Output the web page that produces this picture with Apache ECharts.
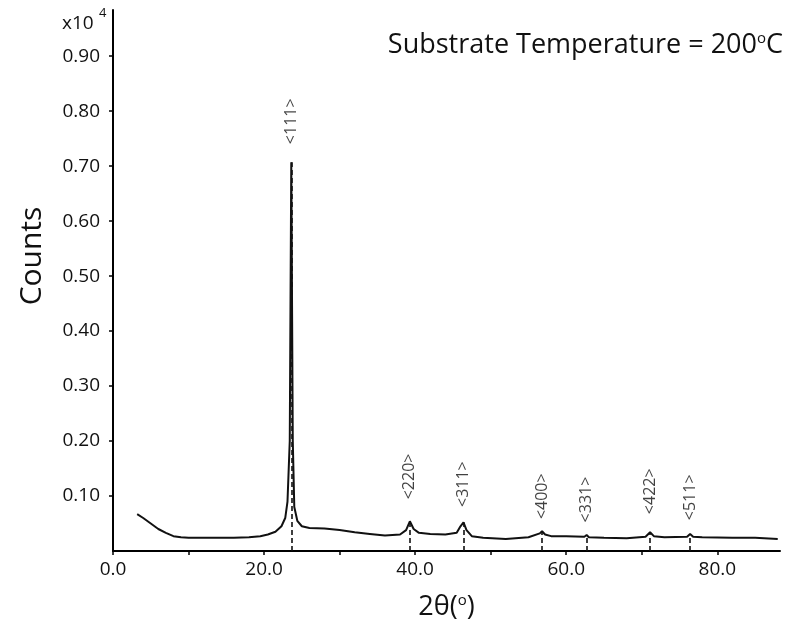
<!DOCTYPE html>
<html>
<head>
<meta charset="utf-8">
<script src="https://cdn.jsdelivr.net/npm/echarts@6/dist/echarts.min.js"></script>
<style>html,body{margin:0;padding:0;background:#fff}#c{width:794px;height:626px}</style>
</head>
<body>
<div id="c"></div>
<script>
// 2θ (degrees) and Counts (x10^4)
var twoTheta = [3.2,4,5,6,7,8,9,10,12,14,16,18,19.5,20.5,21.5,22.3,22.8,23.1,23.4,23.6,23.8,24.0,24.4,25,26,28,30,32,34,36,38,38.8,39.3,39.8,40.5,42,44,45.5,46.0,46.4,46.8,47.5,49,52,55,56.5,56.8,57.2,58,60,62.4,62.7,63.0,65,68,70.5,71.1,71.6,73,76.0,76.4,76.8,78,82,85,88];
var counts   = [0.067,0.060,0.050,0.040,0.033,0.027,0.025,0.024,0.024,0.024,0.024,0.025,0.027,0.030,0.035,0.045,0.060,0.090,0.200,0.707,0.200,0.080,0.055,0.045,0.042,0.041,0.038,0.034,0.031,0.028,0.030,0.038,0.054,0.040,0.033,0.031,0.030,0.033,0.045,0.052,0.038,0.027,0.024,0.022,0.025,0.032,0.036,0.030,0.027,0.027,0.026,0.029,0.025,0.024,0.023,0.026,0.034,0.027,0.025,0.026,0.031,0.026,0.025,0.024,0.024,0.022];
// Peak annotations
var peakNames  = ['<111>','<220>','<311>','<400>','<331>','<422>','<511>'];
var peakTheta  = [23.6,39.3,46.4,56.8,62.7,71.1,76.4];
var peakCounts = [0.707,0.054,0.052,0.036,0.029,0.034,0.031];
var labelCounts = [0.740,0.094,0.080,0.058,0.052,0.067,0.056];
var yTicks = [0.1,0.2,0.3,0.4,0.5,0.6,0.7,0.8,0.9];
var xTicks = [0,20,40,60,80];

var FONT = 'Open Sans';
var chart = echarts.init(document.getElementById('c'), null, {renderer:'canvas'});

var lineData = twoTheta.map(function(t,i){return [t,counts[i]];});
var peakLines = peakTheta.map(function(t,i){
  return [{coord:[t,0]},{coord:[t,peakCounts[i]]}];
});
var labelData = peakNames.map(function(n,i){return {name:n,value:[peakTheta[i],labelCounts[i]]};});

chart.setOption({
  backgroundColor:'#fff',
  animation:false,
  grid:{left:113,right:14,top:10,bottom:72},
  xAxis:{
    type:'value', min:0, max:88.3, interval:10,
    axisLine:{lineStyle:{color:'#000',width:2}},
    axisTick:{show:true,length:4,lineStyle:{color:'#000',width:1.5}},
    splitLine:{show:false},
    axisLabel:{color:'#111',fontSize:19,fontFamily:FONT,margin:9,showMaxLabel:false,
      formatter:function(v){return xTicks.indexOf(Math.round(v))>=0 && Math.abs(v-Math.round(v))<1e-6 ? v.toFixed(1) : '';}},
    name:'2θ({s|o})', nameLocation:'middle', nameGap:42,
    nameTextStyle:{color:'#111',fontSize:27,fontFamily:FONT,rich:{s:{fontSize:15,verticalAlign:'top',padding:[0,0,14,0],fontFamily:FONT,color:'#111'}}}
  },
  yAxis:{
    type:'value', min:0, max:0.984, interval:0.1,
    axisLine:{show:true,lineStyle:{color:'#000',width:2}},
    axisTick:{show:true,length:4,lineStyle:{color:'#000',width:1.5}},
    splitLine:{show:false},
    axisLabel:{color:'#111',fontSize:19,fontFamily:FONT,margin:13,showMinLabel:false,showMaxLabel:false,
      formatter:function(v){
        for(var i=0;i<yTicks.length;i++){ if(Math.abs(v-yTicks[i])<1e-6) return yTicks[i].toFixed(2); }
        return '';
      }}
  },
  title:{
    text:'Substrate Temperature = 200{s|o}C',
    right:6, top:26,
    textStyle:{color:'#111',fontSize:27,fontWeight:'normal',fontFamily:FONT,
      rich:{s:{fontSize:15,fontFamily:FONT,color:'#111',padding:[0,0,14,0]}}}
  },
  graphic:[
    {type:'text',left:62,top:14,style:{text:'x10',fontSize:19,fontFamily:FONT,fill:'#111'}},
    {type:'text',left:99,top:7,style:{text:'4',fontSize:13,fontFamily:FONT,fill:'#111'}},
    {type:'text',x:32,y:256,rotation:Math.PI/2,style:{text:'Counts',fontSize:30,fontFamily:FONT,fill:'#111',align:'center',verticalAlign:'middle'}}
  ],
  series:[
    {
      type:'line', data:lineData, showSymbol:false, symbol:'none',
      lineStyle:{color:'#111',width:2},
      markLine:{silent:true,symbol:'none',label:{show:false},
        lineStyle:{color:'#111',type:[5,3],width:1.6},
        data:peakLines}
    },
    {
      type:'scatter', data:labelData, symbolSize:0, silent:true,
      label:{show:true,position:'inside',rotate:90,align:'left',verticalAlign:'middle',
        formatter:function(p){return p.name;},fontSize:16,fontFamily:FONT,color:'#111'}
    }
  ]
});
</script>
</body>
</html>
